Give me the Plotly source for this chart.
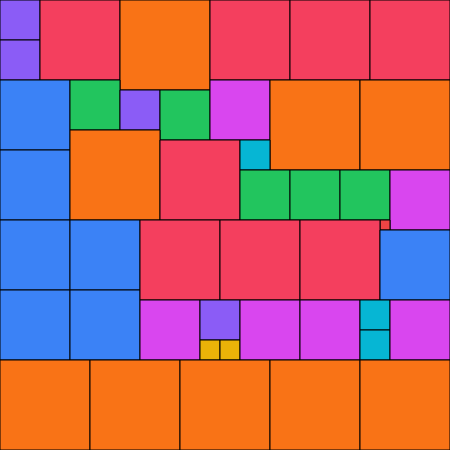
import plotly.graph_objects as go

# Square cells: top-left corner (x, y), side length, colour group
cell_x = [0, 0, 40, 120, 210, 290, 370,
          0, 0, 70, 120, 160, 210, 270, 360,
          70, 160, 240, 240, 290, 340, 390, 380,
          0, 70, 0, 70, 140, 220, 300, 380,
          140, 200, 200, 220, 240, 300, 360, 360, 390,
          0, 90, 180, 270, 360]
cell_y = [0, 40, 0, 0, 0, 0, 0,
          80, 150, 80, 90, 90, 80, 80, 80,
          130, 140, 140, 170, 170, 170, 170, 220,
          220, 220, 290, 290, 220, 220, 220, 230,
          300, 300, 340, 340, 300, 300, 300, 330, 300,
          360, 360, 360, 360, 360]
cell_size = [40, 40, 80, 90, 80, 80, 80,
             70, 70, 50, 40, 50, 60, 90, 90,
             90, 80, 30, 50, 50, 50, 60, 10,
             70, 70, 70, 70, 80, 80, 80, 70,
             60, 40, 20, 20, 60, 60, 30, 30, 60,
             90, 90, 90, 90, 90]

group_colors = {
    10: "#ef4444",
    20: "#eab308",
    30: "#06b6d4",
    40: "#8b5cf6",
    50: "#22c55e",
    60: "#d946ef",
    70: "#3b82f6",
    80: "#f43f5e",
    90: "#f97316",
}

fig = go.Figure()
shapes = []
for x, y, s in zip(cell_x, cell_y, cell_size):
    shapes.append(dict(type="rect", xref="x", yref="y",
                       x0=x, y0=y, x1=x + s, y1=y + s,
                       fillcolor=group_colors[s],
                       line=dict(color="black", width=1),
                       layer="above"))

fig.add_trace(go.Scatter(
    x=[x + s / 2 for x, s in zip(cell_x, cell_size)],
    y=[y + s / 2 for y, s in zip(cell_y, cell_size)],
    mode="markers", marker=dict(size=1, opacity=0),
    hovertext=[f"size {s}" for s in cell_size], hoverinfo="text",
    showlegend=False))

fig.update_layout(
    width=450, height=450,
    margin=dict(l=0, r=0, t=0, b=0),
    paper_bgcolor="white", plot_bgcolor="white",
    shapes=shapes,
    xaxis=dict(range=[0, 450], visible=False, fixedrange=True),
    yaxis=dict(range=[450, 0], visible=False, fixedrange=True),
    showlegend=False,
)

fig.write_html("out.html",
               config={"displayModeBar": False},
               post_script="document.body.style.margin='0';document.body.style.overflow='hidden';")
